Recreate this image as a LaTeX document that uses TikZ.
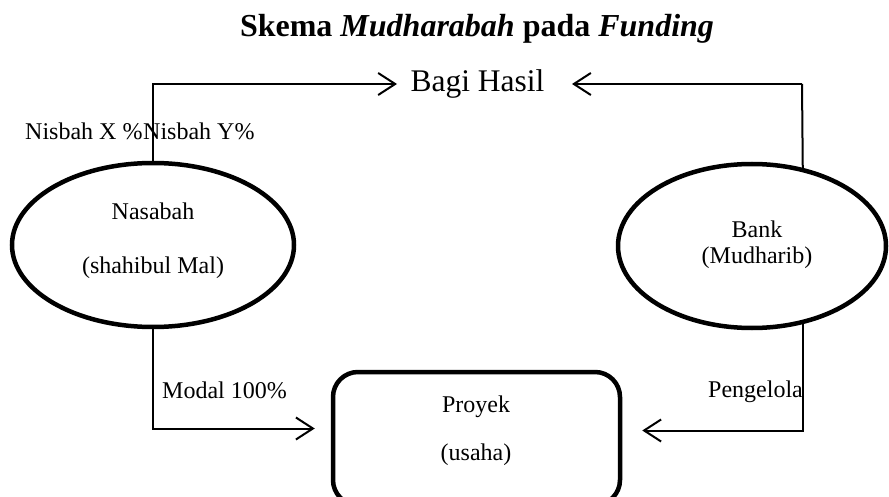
\documentclass[tikz,border=0pt]{standalone}
\usepackage{fontspec}
\setmainfont{Liberation Serif}
\usetikzlibrary{arrows.meta,shapes.geometric,calc}
\begin{document}
\begin{tikzpicture}[x=1pt,y=-1pt,
  conn/.style={line width=2pt,-{Straight Barb[length=17pt,width=22pt,line width=2pt]}},
  plainline/.style={line width=2pt},
  oval/.style={ellipse,draw,line width=4.5pt,inner sep=0pt},
  txt/.style={inner sep=0pt,font=\fontsize{24}{28}\selectfont},
  lbl/.style={txt,anchor=base west}]
\useasboundingbox (0,0) rectangle (889,497);
% title
\node[inner sep=0pt,anchor=base,font=\fontsize{32}{36}\selectfont\bfseries] (title) at (477,37)
  {Skema \textit{Mudharabah} pada \textit{Funding}};
% Bagi Hasil
\node[inner sep=0pt,anchor=base,font=\fontsize{31.5}{34}\selectfont] (bagi) at (477.5,92) {Bagi Hasil};
\coordinate (bagiL) at (397,84);
\coordinate (bagiR) at (572,84);
% ellipses
\node[oval,minimum width=282pt,minimum height=164pt] (nas) at (153,245) {};
\node[txt,anchor=base] (nas1) at (153,220) {Nasabah};
\node[txt,anchor=base] (nas2) at (153,273) {(shahibul Mal)};
\node[oval,minimum width=268pt,minimum height=164pt] (bank) at (752,246) {};
\node[txt,anchor=base] (bank1) at (757,237) {Bank};
\node[txt,anchor=base] (bank2) at (757,264) {(Mudharib)};
% project box
\node[draw,line width=4.5pt,rounded corners=25pt,minimum width=287pt,minimum height=133pt] (proy) at (476.5,438.5) {};
\node[txt,anchor=base] (proy1) at (476,412) {Proyek};
\node[txt,anchor=base] (proy2) at (476,460) {(usaha)};
% labels
\node[lbl] (nx) at (25,140) {Nisbah X \%};
\node[lbl] (ny) at (143,140) {Nisbah Y\%};
\node[lbl] (modal) at (162,398) {Modal 100\%};
\node[lbl] (peng) at (708,397) {Pengelola};
% connectors
\coordinate (rtop) at (802,84);
\draw[conn] (nas.north) |- (bagiL);
\draw[plainline] (bank.57) -- (rtop);
\draw[conn] (rtop) -- (bagiR);
\draw[conn] (nas.south) |- ($(proy.west)+(-16,-10)$);
\draw[conn] (bank.-57) |- ($(proy.east)+(20,-8)$);
\end{tikzpicture}
\end{document}
